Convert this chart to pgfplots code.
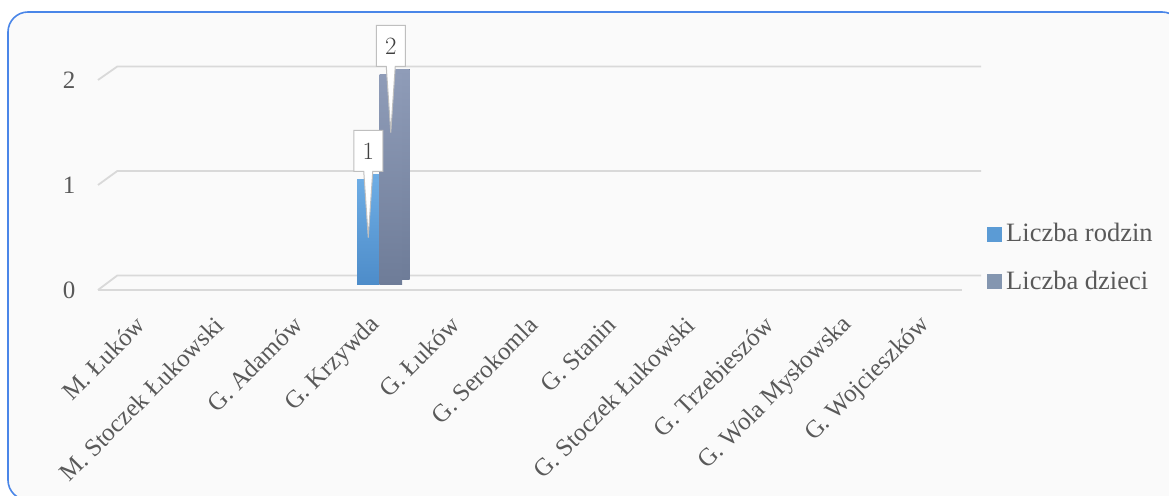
\documentclass[border=0pt]{standalone}
\usepackage{fontspec}
\setmainfont{Liberation Serif}
\usepackage{pgfplots}
\pgfplotsset{compat=1.18}
\usetikzlibrary{shapes.callouts}
\definecolor{frameblue}{HTML}{4A86E8}
\definecolor{bgc}{HTML}{FAFAFA}
\definecolor{gridc}{HTML}{D9D9D9}
\definecolor{textc}{HTML}{595959}
\definecolor{labc}{HTML}{404040}
\definecolor{calc}{HTML}{BFBFBF}
\definecolor{blueT}{HTML}{6DACE4}
\definecolor{blueB}{HTML}{4D8CC9}
\definecolor{blueS}{HTML}{3E6E9E}
\definecolor{grayT}{HTML}{8F9CB8}
\definecolor{grayB}{HTML}{6E7C98}
\definecolor{grayS}{HTML}{4D576B}
\definecolor{legblue}{HTML}{5B9BD5}
\definecolor{leggray}{HTML}{8496B0}
\newcommand{\lfont}{\fontsize{25}{30}\selectfont}
\newcommand{\gfont}{\fontsize{26.5}{31}\selectfont}
\begin{document}
\begin{tikzpicture}
\useasboundingbox (0pt,0pt) rectangle (1169pt,495pt);
\clip (0pt,0pt) rectangle (1169pt,495pt);
\begin{scope}[x=1pt,y=1pt]
\fill[white] (0,0) rectangle (1169,495);
\draw[frameblue, line width=1.6pt, fill=bgc, rounded corners=20pt] (8,-5) rectangle (1182,483);
% gridlines (decoration of the 3-D walls)
\foreach \v in {0,1,2} {
  \draw[gridc, line width=1.8pt] (98,{205+105*\v}) -- (117.3,{219.5+104.5*\v}) -- (981,{219.5+104.5*\v});
}
\draw[gridc, line width=1.8pt] (98,205) -- (962,205);
\end{scope}
\begin{axis}[
  at={(104.6pt,199.5pt)}, anchor=south west,
  scale only axis, width=864pt, height=252pt,
  xmin=-0.5, xmax=10.5, ymin=-0.1, ymax=2.3,
  axis line style={draw=none}, major tick length=0pt,
  clip=false,
  xtick={0,1,2,3,4,5,6,7,8,9,10},
  xticklabels={M. Łuków, M. Stoczek Łukowski, G. Adamów, G. Krzywda, G. Łuków, G. Serokomla, G. Stanin, G. Stoczek Łukowski, G. Trzebieszów, G. Wola Mysłowska, G. Wojcieszków},
  xticklabel style={xshift=-3pt, yshift=-25.5pt, rotate=45, anchor=east, inner sep=0pt, font=\lfont, text=textc},
  ytick={-0.048,0.952,1.952}, yticklabels={0,1,2},
  yticklabel style={anchor=east, inner sep=0pt, xshift=-29pt, font=\lfont, text=textc},
  legend cell align=left,
  legend style={draw=none, fill=none, at={(1.0178,0.295)}, anchor=north west,
    font=\gfont, text=textc, row sep=27.7pt, column sep=4pt, nodes={inner sep=0pt}},
]
\addplot[ybar, bar width=22.5pt, bar shift=-11.25pt, draw=none,
  top color=blueT, bottom color=blueB,
  preaction={fill=blueS, transform canvas={shift={(7.6pt,5.5pt)}}},
  restrict y to domain=0.01:10,
  legend image code/.code={\pgfsetfillcolor{legblue}\pgfpathrectangle{\pgfpoint{0pt}{-8.5pt}}{\pgfpoint{15pt}{15pt}}\pgfusepath{fill}}]
  coordinates {(0,0) (1,0) (2,0) (3,1) (4,0) (5,0) (6,0) (7,0) (8,0) (9,0) (10,0)};
\addlegendentry{Liczba rodzin}
\addplot[ybar, bar width=22.5pt, bar shift=11.25pt, draw=none,
  top color=grayT, bottom color=grayB,
  preaction={fill=grayS, transform canvas={shift={(7.6pt,5.5pt)}}},
  restrict y to domain=0.01:10,
  legend image code/.code={\pgfsetfillcolor{leggray}\pgfpathrectangle{\pgfpoint{0pt}{-8.5pt}}{\pgfpoint{15pt}{15pt}}\pgfusepath{fill}}]
  coordinates {(0,0) (1,0) (2,0) (3,2) (4,0) (5,0) (6,0) (7,0) (8,0) (9,0) (10,0)};
\addlegendentry{Liczba dzieci}
% data labels (callouts)
\addplot[only marks, mark=none, draw=none, forget plot, restrict y to domain=0.5:10,
  nodes near coords,
  every node near coord/.append style={xshift=-11.25pt, yshift=8pt, anchor=south,
    rectangle callout, draw=calc, fill=white, line width=1pt,
    minimum width=29pt, minimum height=41pt, inner sep=0pt,
    callout relative pointer={(0pt,-66pt)}, callout pointer width=9pt,
    font=\gfont, text=labc}]
  coordinates {(0,0) (1,0) (2,0) (3,1) (4,0) (5,0) (6,0) (7,0) (8,0) (9,0) (10,0)};
\addplot[only marks, mark=none, draw=none, forget plot, restrict y to domain=0.5:10,
  nodes near coords,
  every node near coord/.append style={xshift=11.25pt, yshift=8pt, anchor=south,
    rectangle callout, draw=calc, fill=white, line width=1pt,
    minimum width=29pt, minimum height=41pt, inner sep=0pt,
    callout relative pointer={(0pt,-66pt)}, callout pointer width=9pt,
    font=\gfont, text=labc}]
  coordinates {(0,0) (1,0) (2,0) (3,2) (4,0) (5,0) (6,0) (7,0) (8,0) (9,0) (10,0)};
\end{axis}
\end{tikzpicture}
\end{document}
